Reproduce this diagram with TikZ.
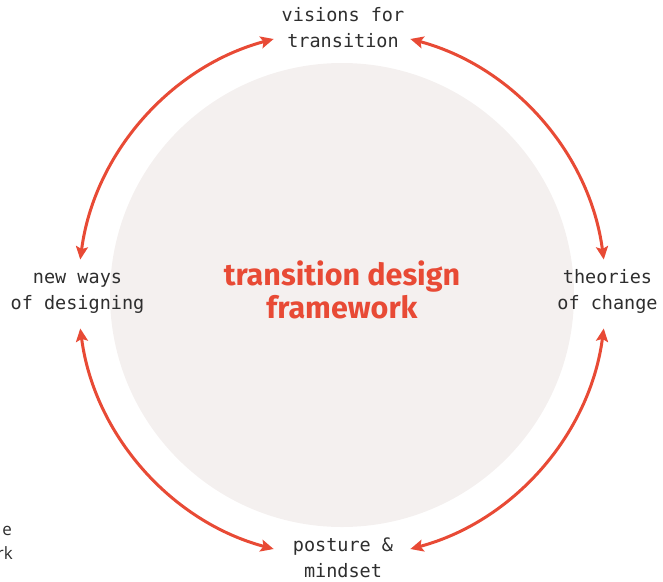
\documentclass[tikz,border=0pt]{standalone}
\usepackage{fontspec}
\setmonofont{DejaVu Sans Mono}
\newfontfamily\titlefont{Fira Sans}
\newfontfamily\fragfont{Open Sans}
\usetikzlibrary{arrows.meta}
\definecolor{tdred}{HTML}{E84A35}
\definecolor{tdbg}{HTML}{F4F0EF}
\definecolor{tdtext}{HTML}{2E2E2E}
\begin{document}
\begin{tikzpicture}[x=1pt,y=-1pt,
  lbl/.style={font=\ttfamily\fontsize{18.5}{26}\selectfont, align=center, inner sep=0pt, text=tdtext, anchor=base},
  ttl/.style={font=\titlefont\bfseries\fontsize{30.5}{33}\selectfont, align=center, inner sep=0pt, text=tdred, anchor=base},
  frag/.style={font=\fragfont\fontsize{17}{23}\selectfont, inner sep=0pt, text=tdtext, anchor=base east},
  ring/.style={draw=tdred, line width=3pt,
    {Stealth[length=13pt,width=12pt,inset=2.5pt]}-{Stealth[length=13pt,width=12pt,inset=2.5pt]}}]
\useasboundingbox (0,0) rectangle (663,581);
\coordinate (C) at (342,295);
\coordinate (R) at (342,294);
\fill[tdbg] (C) circle[radius=232pt];
% arc end points
\coordinate (a1) at ([shift={(R)}]7.5:264pt);
\coordinate (a2) at ([shift={(R)}]105:264pt);
\coordinate (a3) at ([shift={(R)}]187.5:264pt);
\coordinate (a4) at ([shift={(R)}]285:264pt);
\draw[ring] (a1) arc[start angle=7.5, end angle=75, radius=264pt];
\draw[ring] (a2) arc[start angle=105, end angle=172.5, radius=264pt];
\draw[ring] (a3) arc[start angle=187.5, end angle=255, radius=264pt];
\draw[ring] (a4) arc[start angle=285, end angle=352.5, radius=264pt];
% labels (base = baseline of last line)
\node[lbl] (top) at (343,47) {visions for\\transition};
\node[lbl] (left) at (77.5,309.5) {new ways\\of designing};
\node[lbl] (right) at (607.5,309) {theories\\of change};
\node[lbl] (bottom) at (343,577) {posture \&\\mindset};
\node[ttl] (title) at (342,318) {transition design\\framework};
\node[frag] (f1) at (12,535) {e};
\node[frag] (f2) at (13,559) {rk};
\end{tikzpicture}
\end{document}
